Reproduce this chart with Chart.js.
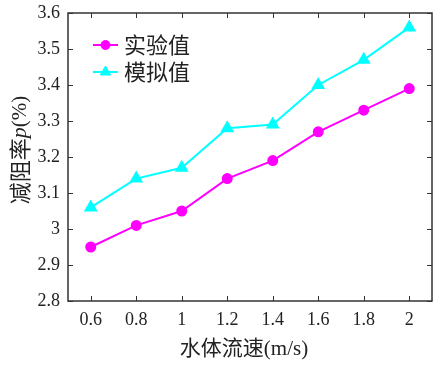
<!DOCTYPE html>
<html>
<head>
<meta charset="utf-8">
<script src="https://cdn.jsdelivr.net/npm/chart.js@4/dist/chart.umd.min.js"></script>
<style>
  html, body { margin:0; padding:0; background:#fff; overflow:hidden; }
  #wrap { width:440px; height:371px; position:relative; }
</style>
</head>
<body>
<div id="wrap"><canvas id="c"></canvas></div>
<script>
// data
const speeds = ['0.6', '0.8', '1', '1.2', '1.4', '1.6', '1.8', '2'];
const measured = [2.95, 3.01, 3.05, 3.14, 3.19, 3.27, 3.33, 3.39];
const simulated = [3.06, 3.14, 3.17, 3.28, 3.29, 3.40, 3.47, 3.56];
const seriesNames = ['实验值', '模拟值'];
const yTitle = ['减阻率', 'p', '(%)'];
const xTitle = '水体流速(m/s)';

const SERIF = '"Liberation Serif", "Times New Roman", "Noto Sans CJK SC", serif';
const CJK = '"Noto Sans CJK SC", "Liberation Serif", serif';

// frame, inward ticks, axis titles and legend
const decor = {
  id: 'decor',
  afterDraw(chart) {
    const { ctx, chartArea: a, scales } = chart;
    const x = scales.x, y = scales.y;
    ctx.save();
    ctx.strokeStyle = '#333';
    ctx.lineWidth = 1.5;
    ctx.strokeRect(a.left, a.top, a.right - a.left, a.bottom - a.top);
    ctx.lineWidth = 1;
    const tl = 5;
    speeds.forEach((s, i) => {
      const px = Math.round(x.getPixelForValue(i)) + 0.5;
      ctx.beginPath();
      ctx.moveTo(px, a.bottom); ctx.lineTo(px, a.bottom - tl);
      ctx.moveTo(px, a.top); ctx.lineTo(px, a.top + tl);
      ctx.stroke();
    });
    y.ticks.forEach(t => {
      const py = Math.round(y.getPixelForValue(t.value)) + 0.5;
      ctx.beginPath();
      ctx.moveTo(a.left, py); ctx.lineTo(a.left + tl, py);
      ctx.moveTo(a.right, py); ctx.lineTo(a.right - tl, py);
      ctx.stroke();
    });

    // x title, a bit left of the plot centre like the original
    ctx.fillStyle = '#222';
    ctx.font = '21px ' + SERIF;
    ctx.textAlign = 'center';
    ctx.textBaseline = 'middle';
    ctx.fillText(xTitle, 244, 349);
    ctx.textAlign = 'left';

    // y title with italic p
    ctx.translate(20, 150);
    ctx.rotate(-Math.PI / 2);
    const fonts = ['22px ' + CJK, 'italic 22px ' + SERIF, '21px ' + SERIF];
    let w = 0;
    yTitle.forEach((t, i) => { ctx.font = fonts[i]; w += ctx.measureText(t).width; });
    let cx = -w / 2;
    yTitle.forEach((t, i) => {
      ctx.font = fonts[i];
      ctx.fillText(t, cx, 0);
      cx += ctx.measureText(t).width;
    });
    ctx.setTransform(1, 0, 0, 1, 0, 0);

    // legend
    chart.data.datasets.forEach((ds, i) => {
      const ly = 45 + i * 27;
      ctx.strokeStyle = ds.borderColor;
      ctx.lineWidth = 2;
      ctx.beginPath();
      ctx.moveTo(93, ly); ctx.lineTo(118, ly);
      ctx.stroke();
      ctx.fillStyle = ds.borderColor;
      ctx.lineWidth = 1;
      Chart.helpers.drawPoint(ctx, {
        pointStyle: ds.pointStyle, radius: ds.pointRadius, borderWidth: 1
      }, 105.5, ly);
      ctx.fillStyle = '#222';
      ctx.font = '22px ' + CJK;
      ctx.textBaseline = 'middle';
      ctx.fillText(ds.label, 124, ly);
    });
    ctx.restore();
  }
};

new Chart(document.getElementById('c'), {
  type: 'line',
  data: {
    labels: speeds,
    datasets: [
      { label: seriesNames[0], data: measured,
        borderColor: '#ff00ff', backgroundColor: '#ff00ff',
        borderWidth: 2, pointStyle: 'circle', pointRadius: 4.5,
        pointBackgroundColor: '#ff00ff', pointBorderColor: '#ff00ff', tension: 0 },
      { label: seriesNames[1], data: simulated,
        borderColor: '#00ffff', backgroundColor: '#00ffff',
        borderWidth: 2, pointStyle: 'triangle', pointRadius: 6,
        pointBackgroundColor: '#00ffff', pointBorderColor: '#00ffff', tension: 0 },
    ],
  },
  options: {
    responsive: true, maintainAspectRatio: false, animation: false,
    layout: { padding: { left: 0, right: 2, top: 13, bottom: 0 } },
    plugins: { legend: { display: false }, tooltip: { enabled: false } },
    scales: {
      x: {
        offset: true,
        grid: { display: false, drawTicks: false },
        border: { display: false },
        ticks: { color: '#222', padding: 8, font: { family: SERIF, size: 18 } },
        afterFit(s) { s.height = 70; s.paddingLeft = 0; s.paddingRight = 0; },
      },
      y: {
        min: 2.8, max: 3.6,
        grid: { display: false, drawTicks: false },
        border: { display: false },
        ticks: { stepSize: 0.1, color: '#222', padding: 8,
          font: { family: SERIF, size: 18 },
          callback: v => String(+v.toFixed(1)) },
        afterFit(s) { s.width = 68; s.paddingTop = 0; s.paddingBottom = 0; },
      },
    },
  },
  plugins: [decor],
});
</script>
</body>
</html>
